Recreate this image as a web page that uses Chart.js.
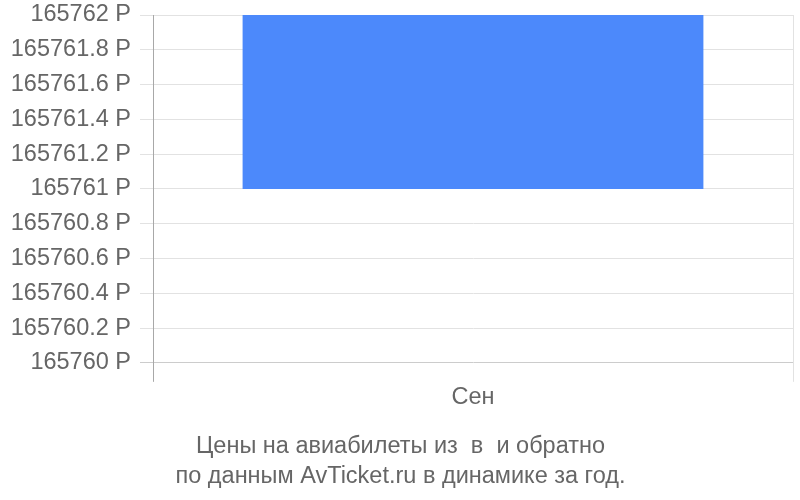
<!DOCTYPE html>
<html>
<head>
<meta charset="utf-8">
<script src="https://cdn.jsdelivr.net/npm/chart.js@4.4.1/dist/chart.umd.min.js"></script>
<style>
  html, body { margin: 0; padding: 0; background: #fff; }
  #wrap { width: 800px; height: 500px; }
</style>
</head>
<body>
<div id="wrap"><canvas id="priceChart" width="800" height="500"></canvas></div>
<script>
// месяцы и цены (Р)
var months = ['Сен'];
var priceFrom = [165761];
var priceTo = [165762];

var yMin = 165760;
var yMax = 165762;
var yStep = 0.2;

var titleLines = ['Цены на авиабилеты из  в  и обратно', 'по данным AvTicket.ru в динамике за год.'];

var textColor = '#666666';
var fontName = '"Liberation Sans", Arial, sans-serif';

var bars = months.map(function (m, i) {
    return [priceFrom[i], priceTo[i]];
});

var data = {
    labels: months,
    datasets: [{
        label: 'Цена',
        data: bars,
        backgroundColor: '#4c89fb',
        borderWidth: 0,
        barPercentage: 0.72,
        categoryPercentage: 1.0
    }]
};

var config = {
    type: 'bar',
    data: data,
    options: {
        responsive: false,
        animation: false,
        devicePixelRatio: 1,
        layout: {
            padding: { left: 8, right: 7, top: 15, bottom: 8 }
        },
        plugins: {
            legend: { display: false },
            tooltip: { enabled: false },
            title: {
                display: true,
                position: 'bottom',
                text: titleLines,
                color: textColor,
                font: { family: fontName, size: 23.5, weight: 'normal', lineHeight: 1.28 },
                padding: { top: 12, bottom: 0 }
            }
        },
        scales: {
            x: {
                grid: {
                    drawOnChartArea: true,
                    drawTicks: true,
                    tickLength: 19,
                    color: function (ctx) {
                        return ctx.index === 0 ? '#a8a8a8' : '#e2e2e2';
                    }
                },
                border: { display: false },
                ticks: {
                    color: textColor,
                    font: { family: fontName, size: 23.5, lineHeight: 1.1 },
                    padding: 3
                },
                afterFit: function (scale) {
                    scale.height = 57;
                }
            },
            y: {
                min: yMin,
                max: yMax,
                grid: {
                    tickLength: 13,
                    color: function (ctx) {
                        return ctx.index === 0 ? '#cccccc' : '#e2e2e2';
                    }
                },
                border: { display: true, color: '#a8a8a8' },
                ticks: {
                    stepSize: yStep,
                    color: textColor,
                    font: { family: fontName, size: 23.5, lineHeight: 1 },
                    padding: 9,
                    callback: function (v) {
                        return parseFloat(Number(v).toFixed(1)) + ' Р';
                    }
                },
                afterFit: function (scale) {
                    scale.width = 145;
                    scale.paddingTop = 0;
                    scale.paddingBottom = 0;
                }
            }
        }
    }
};

var priceChart = new Chart(
    document.getElementById('priceChart'),
    config
);
</script>
</body>
</html>
